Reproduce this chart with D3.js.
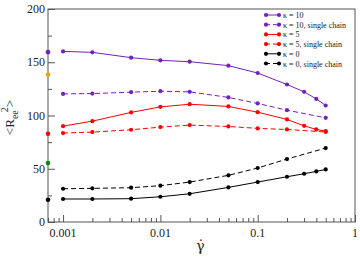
<!DOCTYPE html>
<html>
<head>
<meta charset="utf-8">
<script src="https://cdn.jsdelivr.net/npm/d3@7"></script>
<style>
  body { margin: 0; background: #fff; }
  svg text { font-family: "Liberation Serif", "DejaVu Serif", serif; fill: #222; }
</style>
</head>
<body>
<div id="chart"></div>
<script>
"use strict";

// shear rates
var gammaFull = [0.001, 0.002, 0.005, 0.01, 0.02, 0.05, 0.1, 0.2, 0.3, 0.4, 0.5];
var gammaSingle = [0.001, 0.002, 0.005, 0.01, 0.02, 0.05, 0.1, 0.2, 0.5];

// <Ree^2> values
var k10 = [160.2, 159.3, 154.3, 151.8, 150.5, 146.8, 139.9, 129.1, 122.2, 115.6, 109.4];
var k10single = [120.3, 120.6, 121.9, 122.8, 122.2, 117.0, 111.3, 105.0, 97.8];
var k5 = [90.0, 94.7, 102.9, 108.1, 110.6, 108.5, 103.1, 96.3, 90.3, 86.9, 85.3];
var k5single = [83.5, 84.4, 86.6, 89.1, 91.0, 89.7, 87.9, 86.9, 84.5];
var k0 = [21.6, 21.6, 21.9, 23.7, 26.5, 32.5, 37.5, 42.5, 45.3, 47.5, 49.4];
var k0single = [31.2, 31.6, 32.2, 34.1, 37.5, 43.8, 50.7, 59.1, 69.4];

// values at zero shear, drawn on the y axis
var zeroValues = [159.5, 138.5, 82.8, 55.3, 20.9];
var zeroColors = ["#7221bc", "#f0a000", "#ff0000", "#008b00", "#000000"];

var legendLabels = ["κ = 10", "κ = 10, single chain", "κ = 5", "κ = 5, single chain", "κ = 0", "κ = 0, single chain"];

var xTicks = [0.001, 0.01, 0.1, 1];
var xTickLabels = ["0.001", "0.01", "0.1", "1"];
var yTicks = [0, 50, 100, 150, 200];
var yMinorTicks = [25, 75, 125, 175];

var series = [
  {x: gammaFull, y: k10, color: "#7221bc", dash: null},
  {x: gammaSingle, y: k10single, color: "#7221bc", dash: "5,3"},
  {x: gammaFull, y: k5, color: "#ff0000", dash: null},
  {x: gammaSingle, y: k5single, color: "#ff0000", dash: "5,3"},
  {x: gammaFull, y: k0, color: "#000000", dash: null},
  {x: gammaSingle, y: k0single, color: "#000000", dash: "5,3"}
];

var width = 360, height = 258;
var margin = {left: 48, top: 9, right: 5, bottom: 36};
var axisColor = "#555";

var svg = d3.select("#chart").append("svg")
  .attr("width", width)
  .attr("height", height);

var x = d3.scaleLog().domain([0.0007, 1]).range([margin.left, width - margin.right]);
var y = d3.scaleLinear().domain([0, 200]).range([height - margin.bottom, margin.top]);

// minor x ticks: 2..9 of each decade
var xMinor = [];
[0.0001, 0.001, 0.01, 0.1].forEach(function(d) {
  for (var m = 2; m <= 9; m++) {
    var v = d * m;
    if (v >= 0.0007 && v < 1) xMinor.push(v);
  }
});

// frame
svg.append("rect")
  .attr("x", margin.left)
  .attr("y", margin.top)
  .attr("width", width - margin.left - margin.right)
  .attr("height", height - margin.top - margin.bottom)
  .attr("fill", "none")
  .attr("stroke", axisColor)
  .attr("stroke-width", 1);

// x axis (ticks inward)
var xAxis = svg.append("g")
  .attr("transform", "translate(0," + (height - margin.bottom) + ")");
xAxis.call(d3.axisTop(x).tickValues(xTicks).tickSize(7).tickFormat(""));
xAxis.append("g").call(d3.axisTop(x).tickValues(xMinor).tickSize(4).tickFormat(""));
xAxis.selectAll("path.domain").remove();
xAxis.selectAll("line").attr("stroke", axisColor);

svg.selectAll("text.xlab")
  .data(xTicks)
  .enter()
  .append("text")
    .attr("class", "xlab")
    .attr("x", function(d) { return x(d); })
    .attr("y", height - margin.bottom + 15)
    .attr("text-anchor", "middle")
    .attr("font-size", 12)
    .text(function(d, i) { return xTickLabels[i]; });

// y axis (ticks inward)
var yAxis = svg.append("g")
  .attr("transform", "translate(" + margin.left + ",0)");
yAxis.call(d3.axisRight(y).tickValues(yTicks).tickSize(7).tickFormat(""));
yAxis.append("g").call(d3.axisRight(y).tickValues(yMinorTicks).tickSize(4).tickFormat(""));
yAxis.selectAll("path.domain").remove();
yAxis.selectAll("line").attr("stroke", axisColor);

svg.selectAll("text.ylab")
  .data(yTicks)
  .enter()
  .append("text")
    .attr("class", "ylab")
    .attr("x", margin.left - 3)
    .attr("y", function(d) { return y(d) + 4; })
    .attr("text-anchor", "end")
    .attr("font-size", 12)
    .text(function(d) { return d; });

// axis titles
svg.append("text")
  .attr("x", x(0.05) - 28)
  .attr("y", height - 7)
  .attr("text-anchor", "middle")
  .attr("font-size", 14)
  .style("font-family", "'DejaVu Serif', serif")
  .text("γ\u0307");

var yTitle = svg.append("text")
  .attr("transform", "translate(14," + (y(100) + 2) + ") rotate(-90)")
  .attr("text-anchor", "middle")
  .attr("font-size", 13);
yTitle.append("tspan").text("<R");
yTitle.append("tspan").attr("dy", 4).attr("font-size", 10).text("ee");
yTitle.append("tspan").attr("dy", -10).attr("dx", -2).attr("font-size", 10).text("2");
yTitle.append("tspan").attr("dy", 6).text(">");

// series
var line = d3.line()
  .x(function(d) { return x(d[0]); })
  .y(function(d) { return y(d[1]); });

series.forEach(function(s) {
  var pts = s.x.map(function(g, i) { return [g, s.y[i]]; });
  svg.append("path")
    .datum(pts)
    .attr("d", line)
    .attr("fill", "none")
    .attr("stroke", s.color)
    .attr("stroke-width", 1)
    .attr("stroke-dasharray", s.dash);
  svg.append("g").selectAll("circle")
    .data(pts)
    .enter()
    .append("circle")
      .attr("cx", function(d) { return x(d[0]); })
      .attr("cy", function(d) { return y(d[1]); })
      .attr("r", 2.1)
      .attr("fill", s.color);
});

// zero-shear points on the axis
svg.append("g").selectAll("circle")
  .data(zeroValues)
  .enter()
  .append("circle")
    .attr("cx", x.range()[0])
    .attr("cy", function(d) { return y(d); })
    .attr("r", 2.3)
    .attr("fill", function(d, i) { return zeroColors[i]; });

// legend
var legend = svg.append("g").attr("transform", "translate(266,15)");
var rows = legend.selectAll("g")
  .data(series)
  .enter()
  .append("g")
    .attr("transform", function(d, i) { return "translate(0," + (i * 9.7) + ")"; });
rows.append("line")
  .attr("x1", 0).attr("x2", 13).attr("y1", 0).attr("y2", 0)
  .attr("stroke", function(d) { return d.color; })
  .attr("stroke-width", 1)
  .attr("stroke-dasharray", function(d) { return d.dash ? "4,3" : null; });
rows.append("circle").attr("cx", 0).attr("r", 2.1).attr("fill", function(d) { return d.color; });
rows.append("circle").attr("cx", 13).attr("r", 2.1).attr("fill", function(d) { return d.color; });
rows.append("text")
  .attr("x", 17)
  .attr("y", 3)
  .attr("font-size", 8)
  .text(function(d, i) { return legendLabels[i]; });
</script>
</body>
</html>
